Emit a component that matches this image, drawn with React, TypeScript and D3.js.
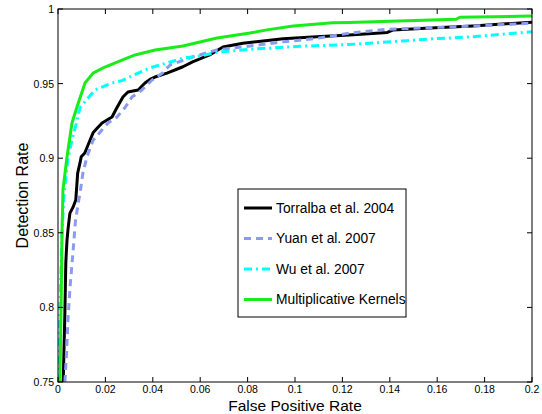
import React from "react";
import * as d3 from "d3";

const xTicks = [0, 0.02, 0.04, 0.06, 0.08, 0.1, 0.12, 0.14, 0.16, 0.18, 0.2];
const yTicks = [0.75, 0.8, 0.85, 0.9, 0.95, 1];

const torralbaFpr = [0.0022, 0.0025, 0.0029, 0.0031, 0.0033, 0.0035, 0.0038, 0.0042, 0.005, 0.0063, 0.0075, 0.0079, 0.0083, 0.0093, 0.0098, 0.0113, 0.0135, 0.0148, 0.0165, 0.0186, 0.0228, 0.0249, 0.0274, 0.0295, 0.0338, 0.0367, 0.0388, 0.0409, 0.046, 0.0527, 0.057, 0.064, 0.0696, 0.078, 0.095, 0.109, 0.123, 0.139, 0.1414, 0.157, 0.175, 0.2];
const torralbaTpr = [0.75, 0.77, 0.796, 0.814, 0.83, 0.8365, 0.845, 0.852, 0.863, 0.867, 0.872, 0.881, 0.89, 0.897, 0.901, 0.9035, 0.912, 0.917, 0.92, 0.9236, 0.9276, 0.934, 0.941, 0.9444, 0.9457, 0.9504, 0.9528, 0.9544, 0.957, 0.9613, 0.9647, 0.9692, 0.9745, 0.977, 0.98, 0.9814, 0.9825, 0.9843, 0.986, 0.9872, 0.9886, 0.9912];

const yuanFpr = [0.0029, 0.0036, 0.0042, 0.0051, 0.0063, 0.0074, 0.0097, 0.0105, 0.0122, 0.0148, 0.0186, 0.0211, 0.0249, 0.0283, 0.0312, 0.0354, 0.0397, 0.044, 0.0473, 0.057, 0.067, 0.081, 0.095, 0.109, 0.123, 0.139, 0.161, 0.175, 0.2];
const yuanTpr = [0.75, 0.7694, 0.7916, 0.814, 0.8365, 0.8586, 0.881, 0.89, 0.9008, 0.912, 0.919, 0.9236, 0.9276, 0.934, 0.941, 0.9457, 0.9524, 0.957, 0.9625, 0.968, 0.9725, 0.9752, 0.978, 0.9803, 0.9838, 0.9864, 0.9877, 0.9886, 0.9905];

const wuFpr = [0.0004, 0.0008, 0.0017, 0.0025, 0.0042, 0.0063, 0.0078, 0.0093, 0.0156, 0.0228, 0.027, 0.0338, 0.0388, 0.0527, 0.06, 0.067, 0.081, 0.102, 0.123, 0.147, 0.158, 0.175, 0.2];
const wuTpr = [0.75, 0.8, 0.85, 0.875, 0.9, 0.915, 0.9236, 0.934, 0.9457, 0.9504, 0.952, 0.957, 0.9605, 0.967, 0.9685, 0.971, 0.973, 0.975, 0.9762, 0.9788, 0.98, 0.9814, 0.9847];

const multFpr = [0.0008, 0.0013, 0.0017, 0.0021, 0.0038, 0.0059, 0.008, 0.0114, 0.0148, 0.0198, 0.027, 0.0325, 0.041, 0.0527, 0.0671, 0.081, 0.0882, 0.0992, 0.116, 0.123, 0.168, 0.1696, 0.2];
const multTpr = [0.75, 0.8, 0.85, 0.879, 0.9008, 0.9236, 0.9343, 0.9504, 0.957, 0.9611, 0.9658, 0.9692, 0.9725, 0.9752, 0.9806, 0.9839, 0.986, 0.9886, 0.9908, 0.991, 0.9931, 0.9945, 0.9953];

const seriesNames = ["Torralba et al. 2004", "Yuan et al. 2007", "Wu et al. 2007", "Multiplicative Kernels"];

const FONT = "'Liberation Sans', Arial, Helvetica, sans-serif";

export default function App() {
  const left = 58, right = 532, top = 9, bottom = 382;
  const x = d3.scaleLinear().domain([0, 0.2]).range([left, right]);
  const y = d3.scaleLinear().domain([0.75, 1]).range([bottom, top]);
  const line = d3
    .line<[number, number]>()
    .x((d) => x(d[0]))
    .y((d) => y(d[1]));
  const zip = (a: number[], b: number[]) => a.map((v, i) => [v, b[i]] as [number, number]);

  const series = [
    { name: seriesNames[0], data: zip(torralbaFpr, torralbaTpr), color: "#000000", dash: "none", w: 3 },
    { name: seriesNames[1], data: zip(yuanFpr, yuanTpr), color: "#8a9af2", dash: "7,5", w: 3 },
    { name: seriesNames[2], data: zip(wuFpr, wuTpr), color: "#00ffff", dash: "8,4,2,4", w: 3 },
    { name: seriesNames[3], data: zip(multFpr, multTpr), color: "#1aeb1a", dash: "none", w: 3 },
  ];

  const tickLen = 5;
  const legX = 238, legY = 189, legW = 168, legH = 128;
  const rowY = [208, 238.5, 269, 299.5];

  return (
    <svg
      width={542}
      height={414}
      style={{ position: "absolute", left: 0, top: 0, background: "#fff" }}
      fontFamily={FONT}
    >
      <rect x={0} y={0} width={542} height={414} fill="#fff" />
      <defs>
        <clipPath id="plotclip">
          <rect x={left} y={top} width={right - left} height={bottom - top} />
        </clipPath>
      </defs>
      <g clipPath="url(#plotclip)">
        {series.map((s) => (
          <path
            key={s.name}
            d={line(s.data) || ""}
            fill="none"
            stroke={s.color}
            strokeWidth={s.w}
            strokeDasharray={s.dash}
            strokeLinejoin="round"
          />
        ))}
      </g>
      <rect x={left} y={top} width={right - left} height={bottom - top} fill="none" stroke="#000" strokeWidth={1} />
      {xTicks.map((t) => (
        <g key={"x" + t}>
          <line x1={x(t)} x2={x(t)} y1={bottom} y2={bottom - tickLen} stroke="#000" />
          <line x1={x(t)} x2={x(t)} y1={top} y2={top + tickLen} stroke="#000" />
          <text x={x(t)} y={393} fontSize={10.5} textAnchor="middle">
            {String(t)}
          </text>
        </g>
      ))}
      {yTicks.map((t) => (
        <g key={"y" + t}>
          <line x1={left} x2={left + tickLen} y1={y(t)} y2={y(t)} stroke="#000" />
          <line x1={right} x2={right - tickLen} y1={y(t)} y2={y(t)} stroke="#000" />
          <text x={54} y={y(t)} fontSize={10.5} textAnchor="end" dominantBaseline="central">
            {String(t)}
          </text>
        </g>
      ))}
      <text x={(left + right) / 2} y={410.5} fontSize={15.5} textAnchor="middle">
        False Positive Rate
      </text>
      <text
        transform={`translate(28,${(top + bottom) / 2}) rotate(-90)`}
        fontSize={16}
        textAnchor="middle"
      >
        Detection Rate
      </text>
      <rect x={legX} y={legY} width={legW} height={legH} fill="#fff" stroke="#000" strokeWidth={1} />
      {series.map((s, i) => (
        <g key={"leg" + i}>
          <line
            x1={244}
            x2={272}
            y1={rowY[i]}
            y2={rowY[i]}
            stroke={s.color}
            strokeWidth={s.w}
            strokeDasharray={s.dash}
          />
          <text x={276} y={rowY[i]} fontSize={13.8} dominantBaseline="central">
            {s.name}
          </text>
        </g>
      ))}
    </svg>
  );
}
